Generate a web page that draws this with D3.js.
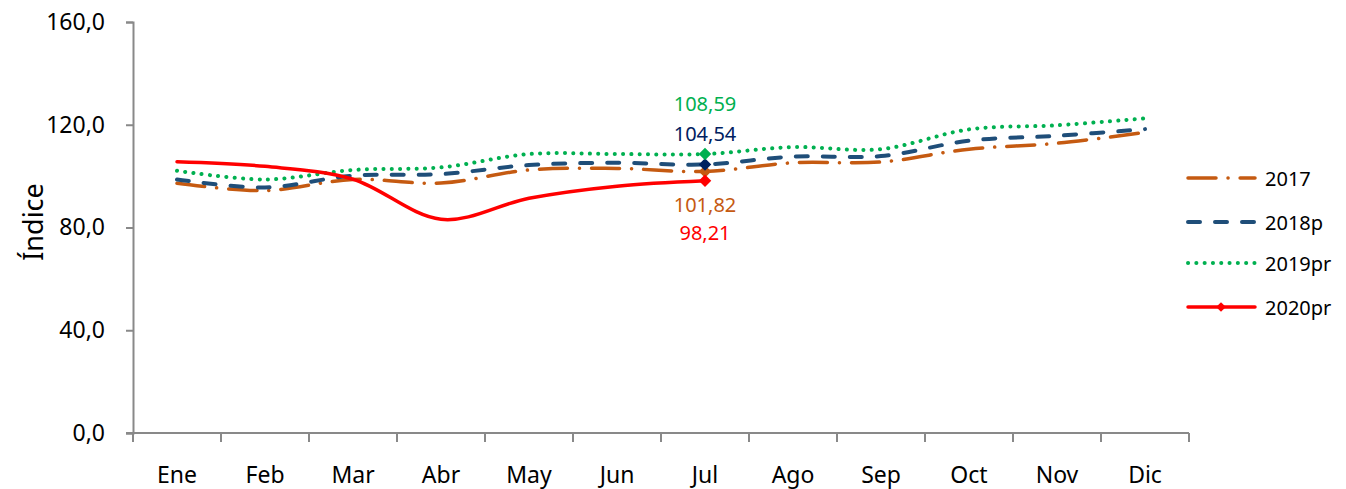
<!DOCTYPE html>
<html><head><meta charset="utf-8">
<script src="https://cdn.jsdelivr.net/npm/d3@7"></script>
<style>body{margin:0;background:#fff}svg{font-family:"Noto Sans",sans-serif}</style>
</head><body><svg id="c" width="1346" height="489"></svg>
<script>
const months = ["Ene","Feb","Mar","Abr","May","Jun","Jul","Ago","Sep","Oct","Nov","Dic"];
const s2017 = [97.2,94.4,98.7,97.3,102.4,103.0,101.82,105.2,105.5,110.5,112.8,117.0];
const s2018 = [98.7,95.6,100.2,100.8,104.3,105.2,104.54,107.6,107.8,113.8,115.7,118.3];
const s2019 = [102.1,98.7,102.4,103.4,108.6,108.6,108.59,111.3,110.5,118.2,119.8,122.5];
const s2020 = [105.6,103.8,98.8,83.2,91.4,96.1,98.21];
const yTicks = [0,40,80,120,160];
const seriesNames = ["2017","2018p","2019pr","2020pr"];

const svg = d3.select("#c");
const x = d3.scaleBand().domain(months).range([133,1189]);
const y = d3.scaleLinear().domain([0,160]).range([433,22]);
const fmt = v => d3.format(".1f")(v).replace(".",",");

const axisColor = "#898989";
const gy = svg.append("g").attr("transform","translate(133,0)")
  .call(d3.axisLeft(y).tickValues(yTicks).tickFormat(fmt).tickSize(7).tickPadding(21));
const gx = svg.append("g").attr("transform","translate(0,433)")
  .call(d3.axisBottom(x).tickSize(0).tickPadding(34));
gx.selectAll(".bt").data(d3.range(13)).enter().append("line")
  .attr("x1",i=>133+i*x.step()).attr("x2",i=>133+i*x.step()).attr("y1",0).attr("y2",9)
  .attr("stroke",axisColor).attr("stroke-width",2);
[gx,gy].forEach(g=>{
  g.select(".domain").attr("stroke",axisColor).attr("stroke-width",2);
  g.selectAll(".tick line").attr("stroke",axisColor).attr("stroke-width",2);
  g.selectAll("text").attr("fill","#000").attr("font-family","'Noto Sans',sans-serif");
});
gy.selectAll("text").attr("font-size",23);
gx.selectAll("text").attr("font-size",23);
gx.select(".domain").attr("d","M126,0H1189");

svg.append("text").attr("transform","translate(43,222) rotate(-90)").attr("text-anchor","middle")
  .attr("font-size",27).text("Índice");

const cx = d => x(d)+x.bandwidth()/2;
const line = d3.line().x((d,i)=>cx(months[i])).y(d=>y(d)).curve(d3.curveCardinal.tension(0));

const styles = [
  {data:s2017,color:"#C55A11",dash:"28,12,0.1,12",w:3.5,mark:"#C55A11"},
  {data:s2018,color:"#1F4E79",dash:"12,15",w:4,mark:"#002060"},
  {data:s2019,color:"#00B050",dash:"0.1,8.2",w:4,mark:"#00B050"},
  {data:s2020,color:"#FF0000",dash:null,w:3.5,mark:"#FF0000"}
];
styles.forEach(s=>{
  svg.append("path").attr("d",line(s.data)).attr("fill","none").attr("stroke",s.color)
    .attr("stroke-width",s.w).attr("stroke-linecap","round").attr("stroke-dasharray",s.dash);
});
const diamond = d3.symbol().type(d3.symbolDiamond2).size(100);
styles.forEach(s=>{
  svg.append("path").attr("d",diamond()).attr("fill",s.mark)
    .attr("transform",`translate(${cx("Jul")},${y(s.data[6])})`);
});
const lbls = [
  {v:s2019[6],c:"#00B050",yy:111},
  {v:s2018[6],c:"#002060",yy:141},
  {v:s2017[6],c:"#C55A11",yy:212},
  {v:s2020[6],c:"#FF0000",yy:240}
];
lbls.forEach(l=>svg.append("text").attr("x",cx("Jul")).attr("y",l.yy).attr("text-anchor","middle")
  .attr("font-size",20).attr("fill",l.c).text(d3.format(".2f")(l.v).replace(".",",")));

const ly = [178,222,263,307];
styles.forEach((s,i)=>{
  svg.append("line").attr("x1",1188).attr("x2",1255).attr("y1",ly[i]).attr("y2",ly[i])
    .attr("stroke",s.color).attr("stroke-width",s.w).attr("stroke-linecap","round").attr("stroke-dasharray",s.dash);
  if(i===3) svg.append("path").attr("d",d3.symbol().type(d3.symbolDiamond2).size(60)()).attr("fill",s.color)
    .attr("transform",`translate(1221,${ly[i]})`);
  svg.append("text").attr("x",1265).attr("y",ly[i]+8).attr("font-size",20).text(seriesNames[i]);
});
</script></body></html>
